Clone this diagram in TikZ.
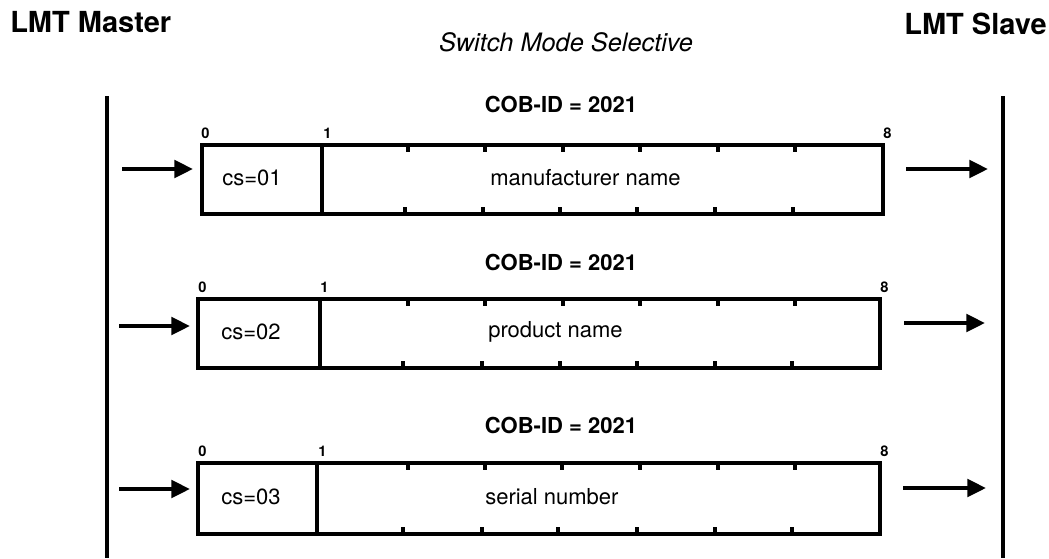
\documentclass[tikz,border=0pt]{standalone}
\usepackage{fontspec}
\setmainfont{TeX Gyre Heros}
\usetikzlibrary{arrows.meta}
\tikzset{
  boxline/.style={line width=2.3pt, line join=miter},
  tickline/.style={line width=2.3pt},
  lifeline/.style={line width=3pt},
  msgarrow/.style={line width=3pt, -{Triangle[length=14pt,width=13pt]}},
  bigtitle/.style={font=\fontsize{21.75}{24}\selectfont\bfseries, inner sep=0pt},
  subtitle/.style={font=\fontsize{19}{22}\selectfont\itshape, inner sep=0pt},
  cobid/.style={font=\fontsize{16.5}{19}\selectfont\bfseries, inner sep=0pt},
  bytenum/.style={font=\fontsize{11}{12}\selectfont\bfseries, inner sep=0pt, anchor=base west},
  fieldtext/.style={font=\fontsize{16.5}{19}\selectfont, inner sep=0pt},
}
\begin{document}
\begin{tikzpicture}[x=0.75pt,y=-0.75pt]
\path[use as bounding box] (0,0) rectangle (1049,558);
% titles
\node[bigtitle, anchor=west] (master) at (10,22) {LMT Master};
\node[bigtitle, anchor=east] (slave) at (1047,24) {LMT Slave};
\node[subtitle] (mode) at (566,42) {Switch Mode Selective};
% lifelines
\coordinate (mtop) at (107,96); \coordinate (mbot) at (107,558);
\coordinate (stop) at (1003,96); \coordinate (sbot) at (1003,558);
\draw[lifeline] (mtop) -- (mbot);
\draw[lifeline] (stop) -- (sbot);

% ---------- frame 1 ----------
\node[cobid] (cob1) at (561,104) {COB-ID = 2021};
\draw[boxline] (202,145) rectangle (883,214);
\draw[boxline] (322,145) -- (322,214);
\foreach \t in {408,485,563,640,718,795} \draw[tickline] (\t,145) -- (\t,152);
\foreach \t in {405,483,560,637,715,793} \draw[tickline] (\t,207) -- (\t,214);
\node[bytenum] (b10) at (201,138) {0};
\node[bytenum] (b11) at (323,138) {1};
\node[bytenum] (b18) at (883,138) {8};
\node[fieldtext] (cs1) at (252,178) {cs=01};
\node[fieldtext, anchor=west] (d1) at (490,178) {manufacturer name};
\coordinate (l1s) at (122,169); \coordinate (l1e) at (193,169);
\coordinate (r1s) at (906,169); \coordinate (r1e) at (988,169);
\draw[msgarrow] (l1s) -- (l1e);
\draw[msgarrow] (r1s) -- (r1e);

% ---------- frame 2 ----------
\node[cobid] (cob2) at (561,262) {COB-ID = 2021};
\draw[boxline] (198,299) rectangle (880,368);
\draw[boxline] (320,299) -- (320,368);
\foreach \t in {408,485,563,640,718,795} \draw[tickline] (\t,299) -- (\t,306);
\foreach \t in {403,482,560,637,715,792} \draw[tickline] (\t,361) -- (\t,368);
\node[bytenum] (b20) at (198,292) {0};
\node[bytenum] (b21) at (320,292) {1};
\node[bytenum] (b28) at (880,292) {8};
\node[fieldtext] (cs2) at (251,332) {cs=02};
\node[fieldtext, anchor=west] (d2) at (488,332) {product name};
\coordinate (l2s) at (119,326); \coordinate (l2e) at (190,326);
\coordinate (r2s) at (904,323); \coordinate (r2e) at (985,323);
\draw[msgarrow] (l2s) -- (l2e);
\draw[msgarrow] (r2s) -- (r2e);

% ---------- frame 3 ----------
\node[cobid] (cob3) at (561,425) {COB-ID = 2021};
\draw[boxline] (198,463) rectangle (880,534);
\draw[boxline] (317,463) -- (317,534);
\foreach \t in {408,485,562,640,718,795} \draw[tickline] (\t,463) -- (\t,470);
\foreach \t in {403,482,558,637,715,792} \draw[tickline] (\t,527) -- (\t,534);
\node[bytenum] (b30) at (198,456) {0};
\node[bytenum] (b31) at (318,456) {1};
\node[bytenum] (b38) at (880,456) {8};
\node[fieldtext] (cs3) at (251,497) {cs=03};
\node[fieldtext, anchor=west] (d3) at (485,497) {serial number};
\coordinate (l3s) at (119,489); \coordinate (l3e) at (190,489);
\coordinate (r3s) at (903,488); \coordinate (r3e) at (986,488);
\draw[msgarrow] (l3s) -- (l3e);
\draw[msgarrow] (r3s) -- (r3e);
\end{tikzpicture}
\end{document}
